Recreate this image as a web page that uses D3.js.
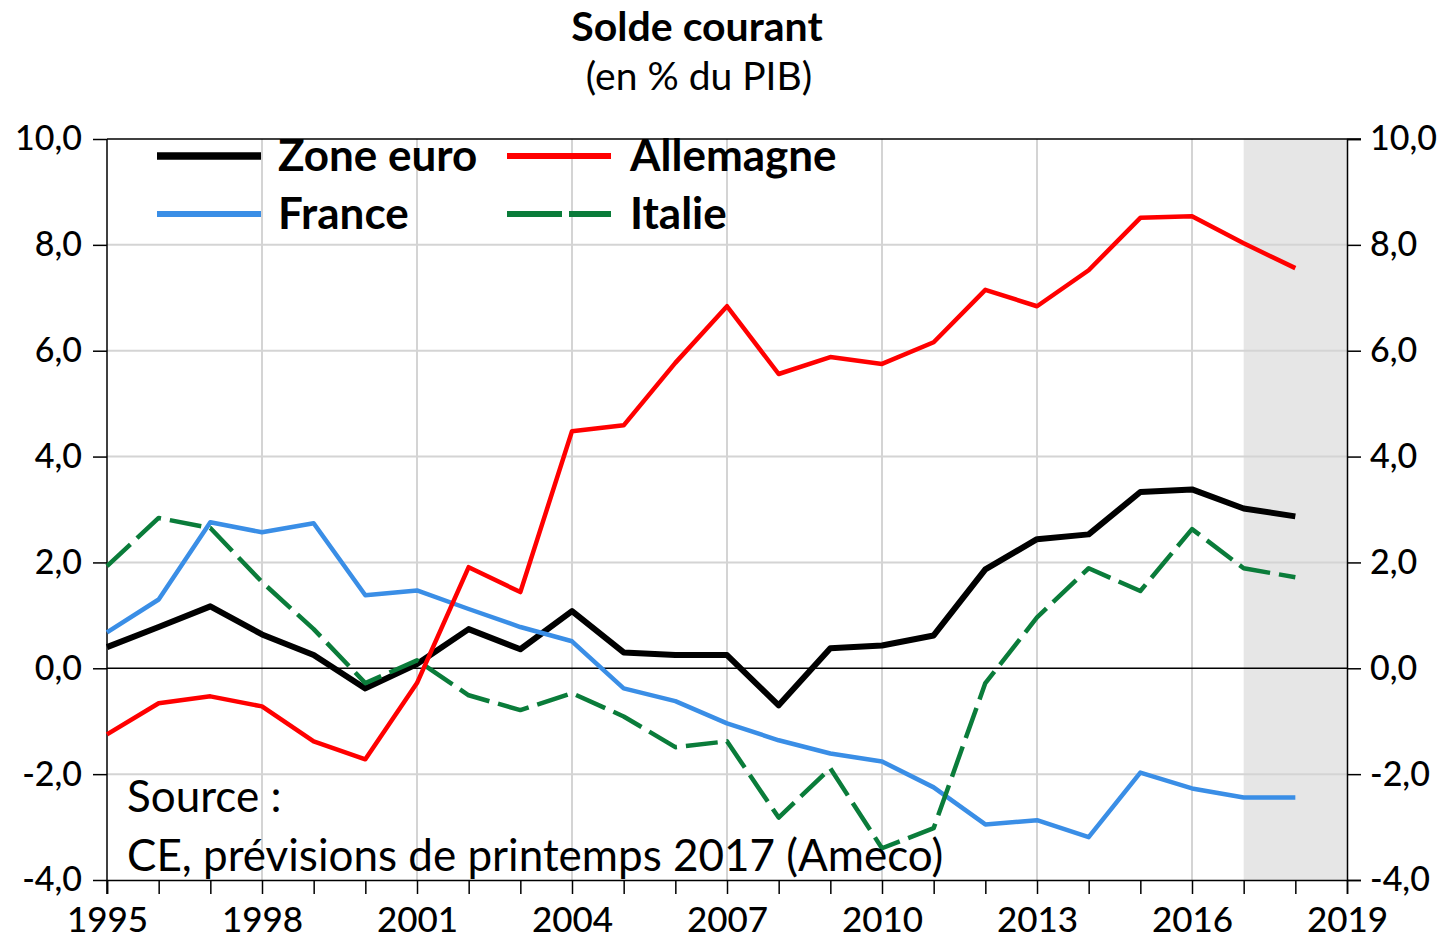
<!DOCTYPE html>
<html><head><meta charset="utf-8">
<script src="https://cdn.jsdelivr.net/npm/d3@7"></script>
<style>body{margin:0;background:#fff}svg{display:block}text{font-family:Lato,"Open Sans",sans-serif}</style>
</head><body>
<svg id="c" width="1444" height="940"></svg>
<script>
const years = d3.range(1995, 2019);
const zoneEuro = [0.40,0.78,1.17,0.64,0.25,-0.38,0.08,0.74,0.36,1.08,0.30,0.25,0.25,-0.70,0.38,0.43,0.62,1.87,2.44,2.53,3.33,3.38,3.02,2.87];
const allemagne = [-1.25,-0.66,-0.53,-0.72,-1.38,-1.72,-0.28,1.91,1.44,4.48,4.59,5.77,6.84,5.56,5.88,5.75,6.16,7.15,6.84,7.52,8.51,8.54,8.03,7.56];
const france = [0.68,1.30,2.76,2.57,2.74,1.38,1.47,1.12,0.78,0.51,-0.38,-0.62,-1.04,-1.36,-1.61,-1.76,-2.25,-2.95,-2.87,-3.19,-1.97,-2.27,-2.44,-2.44];
const italie = [1.93,2.84,2.65,1.63,0.74,-0.28,0.15,-0.51,-0.79,-0.47,-0.91,-1.49,-1.38,-2.82,-1.89,-3.40,-3.02,-0.28,0.96,1.89,1.46,2.63,1.89,1.72];
const yTicks = [-4,-2,0,2,4,6,8,10];
const xLabelYears = [1995,1998,2001,2004,2007,2010,2013,2016,2019];
const forecastStart = 2017, forecastEnd = 2019;

const series = [
  {name:"Zone euro", values:zoneEuro, color:"#000000", width:6, dash:null},
  {name:"France", values:france, color:"#3a8ee6", width:4.5, dash:null},
  {name:"Italie", values:italie, color:"#0a7c3a", width:4.5, dash:"32,9"},
  {name:"Allemagne", values:allemagne, color:"#ff0000", width:4.5, dash:null}
];

const svg = d3.select("#c");
const L=107, R=1347, T=139, B=880;
const x = d3.scaleLinear().domain([1995,2019]).range([L,R]);
const y = d3.scaleLinear().domain([-4,10]).range([B,T]);
const fmt = v => d3.format(".1f")(v).replace(".",",").replace("−","-");

// forecast shading
svg.append("rect").attr("x",x(forecastStart)).attr("y",T).attr("width",x(forecastEnd)-x(forecastStart)).attr("height",B-T).attr("fill","#e6e6e6");

// grid
svg.append("g").selectAll("line").data(yTicks.filter(v=>v!==0&&v!==-4&&v!==10)).join("line")
  .attr("x1",L).attr("x2",R).attr("y1",d=>y(d)).attr("y2",d=>y(d)).attr("stroke","#d4d4d4").attr("stroke-width",2);
svg.append("g").selectAll("line").data(xLabelYears.filter(v=>v>1995&&v<2019)).join("line")
  .attr("x1",d=>x(d)).attr("x2",d=>x(d)).attr("y1",T).attr("y2",B).attr("stroke","#d4d4d4").attr("stroke-width",2);

// axes
const gl = svg.append("g").attr("transform",`translate(${L},0)`)
  .call(d3.axisLeft(y).tickValues(yTicks).tickFormat(fmt).tickSize(14).tickPadding(11));
const gr = svg.append("g").attr("transform",`translate(${R},0)`)
  .call(d3.axisRight(y).tickValues(yTicks).tickFormat(fmt).tickSize(14).tickPadding(9));
const gb = svg.append("g").attr("transform",`translate(0,${B})`)
  .call(d3.axisBottom(x).tickValues(d3.range(1995,2020)).tickFormat(d=>xLabelYears.includes(d)?String(d):"").tickSize(14).tickPadding(10));
[gl,gr].forEach(g=>g.selectAll(".tick text").attr("font-size",34));
gb.selectAll(".tick text").attr("font-size",35).attr("dy","0.8em");
[gl,gr,gb].forEach(g=>{
  g.select(".domain").attr("stroke","#000").attr("stroke-width",1.5);
  g.selectAll(".tick line").attr("stroke","#000").attr("stroke-width",1.5);
  g.selectAll(".tick text").attr("fill","#000").attr("font-family","Lato,sans-serif").attr("font-weight",500);
});
// top border
svg.append("line").attr("x1",L).attr("x2",R+14).attr("y1",T).attr("y2",T).attr("stroke","#000").attr("stroke-width",1.5);
gl.select(".domain").remove();
svg.append("line").attr("x1",L).attr("x2",L).attr("y1",T).attr("y2",B+14).attr("stroke","#000").attr("stroke-width",1.5);
// zero line
svg.append("line").attr("x1",L).attr("x2",R).attr("y1",y(0)).attr("y2",y(0)).attr("stroke","#000").attr("stroke-width",1.5);

// lines
const line = d3.line().x((d,i)=>x(years[i])).y(d=>y(d));
svg.append("g").selectAll("path").data(series).join("path")
  .attr("d",d=>line(d.values)).attr("fill","none").attr("stroke",d=>d.color)
  .attr("stroke-width",d=>d.width).attr("stroke-dasharray",d=>d.dash).attr("stroke-linejoin","round");

// title
svg.append("text").attr("x",697).attr("y",41).attr("text-anchor","middle").attr("font-size",41).attr("font-weight","bold").text("Solde courant");
svg.append("text").attr("x",699).attr("y",90).attr("text-anchor","middle").attr("font-size",39).text("(en % du PIB)");

// legend
const leg = [
  {s:series[0], lx:157, ly:156, tx:278},
  {s:series[3], lx:507, ly:156, tx:630},
  {s:series[1], lx:157, ly:214, tx:278},
  {s:series[2], lx:507, ly:214, tx:630}
];
const lg = svg.append("g");
leg.forEach(l=>{
  lg.append("line").attr("x1",l.lx).attr("x2",l.lx+104).attr("y1",l.ly).attr("y2",l.ly)
    .attr("stroke",l.s.color).attr("stroke-width",l.s.width+1.5).attr("stroke-dasharray",l.s.dash?"55,7":null);
  lg.append("text").attr("x",l.tx).attr("y",l.ly+15).attr("font-size",44).attr("font-weight","bold").text(l.s.name);
});

// source
svg.append("text").attr("x",127).attr("y",812).attr("font-size",44).text("Source :");
svg.append("text").attr("x",127).attr("y",871).attr("font-size",44).text("CE, prévisions de printemps 2017 (Ameco)");
</script>
</body></html>
